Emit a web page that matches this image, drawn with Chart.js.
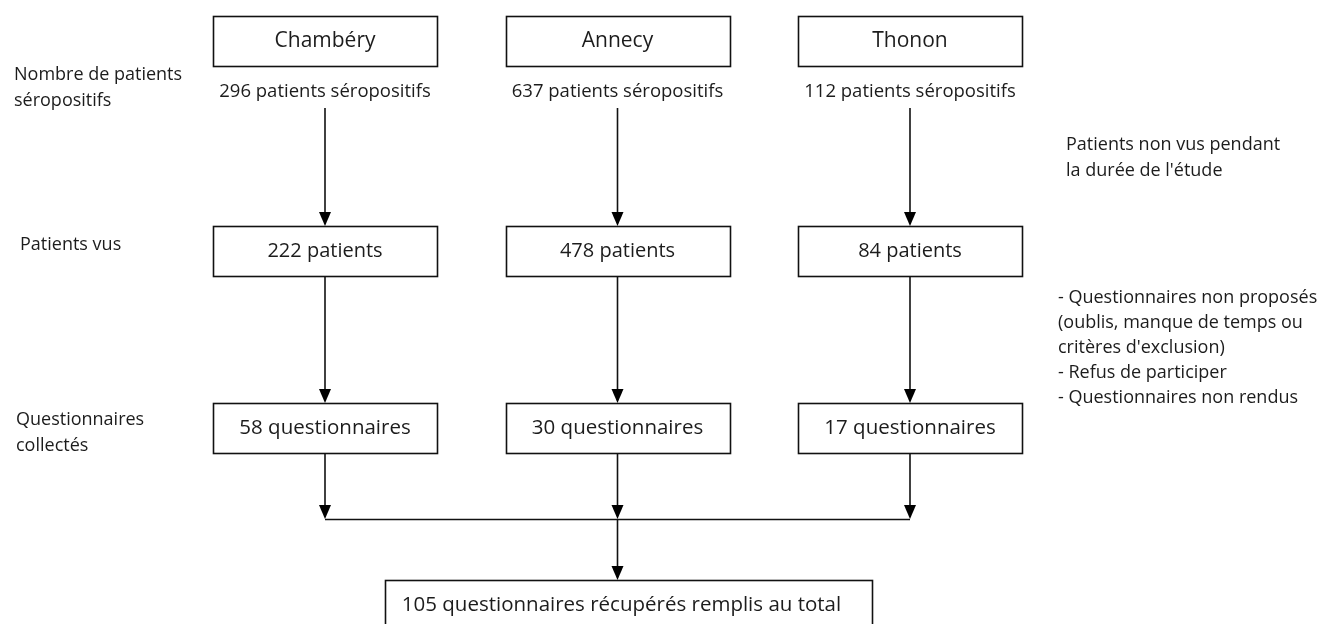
<!DOCTYPE html>
<html>
<head>
<meta charset="utf-8">
<script src="https://cdn.jsdelivr.net/npm/chart.js@4"></script>
<style>
  html, body { margin: 0; padding: 0; background: #fff; }
  #flow { display: block; }
</style>
</head>
<body>
<canvas id="flow" width="1330" height="624"></canvas>
<script>
// data
const sites = ['Chambéry', 'Annecy', 'Thonon'];
const seropositive = [296, 637, 112];
const seen = [222, 478, 84];
const collected = [58, 30, 17];
const total = 105;

const rowLabels = [
  ['Nombre de patients', 'séropositifs'],
  ['Patients vus'],
  ['Questionnaires', 'collectés']
];
const sideNotes = [
  ['Patients non vus pendant', 'la durée de l\'étude'],
  ['- Questionnaires non proposés', '(oublis, manque de temps ou', 'critères d\'exclusion)', '- Refus de participer', '- Questionnaires non rendus']
];

// layout (y in page pixels, top = 0)
const ROW_SITE = 41, ROW_SERO = 92, ROW_SEEN = 251, ROW_COLL = 428, ROW_JOIN = 519, ROW_TOTAL = 605;
const BOX_W = 224, BOX_H = 50;
const FONT = '"Open Sans", "Noto Sans", sans-serif';
const INK = '#1c1c1c';

const pts = (row) => sites.map((s, i) => ({ x: i, y: row }));

function arrowDown(ctx, x, y0, y1) {
  ctx.beginPath();
  ctx.moveTo(x, y0);
  ctx.lineTo(x, y1 - 12);
  ctx.stroke();
  ctx.beginPath();
  ctx.moveTo(x - 6, y1 - 14);
  ctx.lineTo(x + 6, y1 - 14);
  ctx.lineTo(x, y1);
  ctx.closePath();
  ctx.fill();
}

function box(ctx, cx, cy, w, h, text, size) {
  ctx.strokeRect(Math.round(cx - w / 2) + 0.5, Math.round(cy - h / 2) + 0.5, w, h);
  ctx.font = size + 'px ' + FONT;
  ctx.textAlign = 'center';
  ctx.textBaseline = 'middle';
  ctx.fillText(text, cx, cy);
}

const flowPlugin = {
  id: 'flow',
  afterDatasetsDraw(chart) {
    const ctx = chart.ctx;
    const xs = chart.scales.x, ys = chart.scales.y;
    ctx.save();
    ctx.strokeStyle = '#111';
    ctx.fillStyle = INK;
    ctx.lineWidth = 1.6;

    const cx = sites.map((s, i) => xs.getPixelForValue(i));
    const yTop = ys.getPixelForValue(ROW_SITE);
    const ySero = ys.getPixelForValue(ROW_SERO);
    const ySeen = ys.getPixelForValue(ROW_SEEN);
    const yColl = ys.getPixelForValue(ROW_COLL);
    const yJoin = ys.getPixelForValue(ROW_JOIN);
    const yTot = ys.getPixelForValue(ROW_TOTAL);

    sites.forEach((s, i) => {
      ctx.fillStyle = INK;
      box(ctx, cx[i], yTop, BOX_W, BOX_H, s, 21);
      ctx.font = '18.5px ' + FONT;
      ctx.textAlign = 'center';
      ctx.textBaseline = 'middle';
      ctx.fillText(seropositive[i] + ' patients séropositifs', cx[i], ySero);
      box(ctx, cx[i], ySeen, BOX_W, BOX_H, seen[i] + ' patients', 20);
      box(ctx, cx[i], yColl, BOX_W, BOX_H, collected[i] + ' questionnaires', 20.5);
      ctx.fillStyle = '#000';
      arrowDown(ctx, cx[i], ySero + 16, ySeen - BOX_H / 2);
      arrowDown(ctx, cx[i], ySeen + BOX_H / 2, yColl - BOX_H / 2);
      arrowDown(ctx, cx[i], yColl + BOX_H / 2, yJoin);
    });

    ctx.beginPath();
    ctx.moveTo(cx[0], yJoin + 0.5);
    ctx.lineTo(cx[2], yJoin + 0.5);
    ctx.stroke();
    arrowDown(ctx, cx[1], yJoin, yTot - 25);

    ctx.fillStyle = INK;
    ctx.strokeRect(385.5, yTot - 25 + 0.5, 487, 60);
    ctx.font = '20.5px ' + FONT;
    ctx.textAlign = 'center';
    ctx.textBaseline = 'middle';
    ctx.fillText(total + ' questionnaires récupérés remplis au total', cx[1] + 4, yTot);

    // row labels on the left
    ctx.font = '18px ' + FONT;
    ctx.textAlign = 'left';
    const labelRows = [[14, 75], [20, 245], [16, 420]];
    rowLabels.forEach((lines, r) => {
      lines.forEach((t, k) => ctx.fillText(t, labelRows[r][0], labelRows[r][1] + k * 26));
    });

    // side notes on the right
    const noteRows = [[1066, 145, 26], [1058, 298, 25]];
    sideNotes.forEach((lines, r) => {
      lines.forEach((t, k) => ctx.fillText(t, noteRows[r][0], noteRows[r][1] + k * noteRows[r][2]));
    });
    ctx.restore();
  }
};

// site columns: 0 -> 325px, 2 -> 910px
const pxPerSite = 292.5;
const xMin = -325 / pxPerSite;
const xMax = xMin + 1330 / pxPerSite;

new Chart(document.getElementById('flow'), {
  type: 'scatter',
  data: {
    datasets: [
      { label: 'Sites', data: pts(ROW_SITE), pointRadius: 0 },
      { label: 'Séropositifs', data: pts(ROW_SERO), pointRadius: 0 },
      { label: 'Patients vus', data: pts(ROW_SEEN), pointRadius: 0 },
      { label: 'Questionnaires', data: pts(ROW_COLL), pointRadius: 0 }
    ]
  },
  options: {
    responsive: false,
    animation: false,
    layout: { padding: 0 },
    plugins: { legend: { display: false }, tooltip: { enabled: false } },
    scales: {
      x: { type: 'linear', min: xMin, max: xMax, display: false },
      y: { type: 'linear', min: 0, max: 624, reverse: true, display: false }
    }
  },
  plugins: [flowPlugin]
});
</script>
</body>
</html>
